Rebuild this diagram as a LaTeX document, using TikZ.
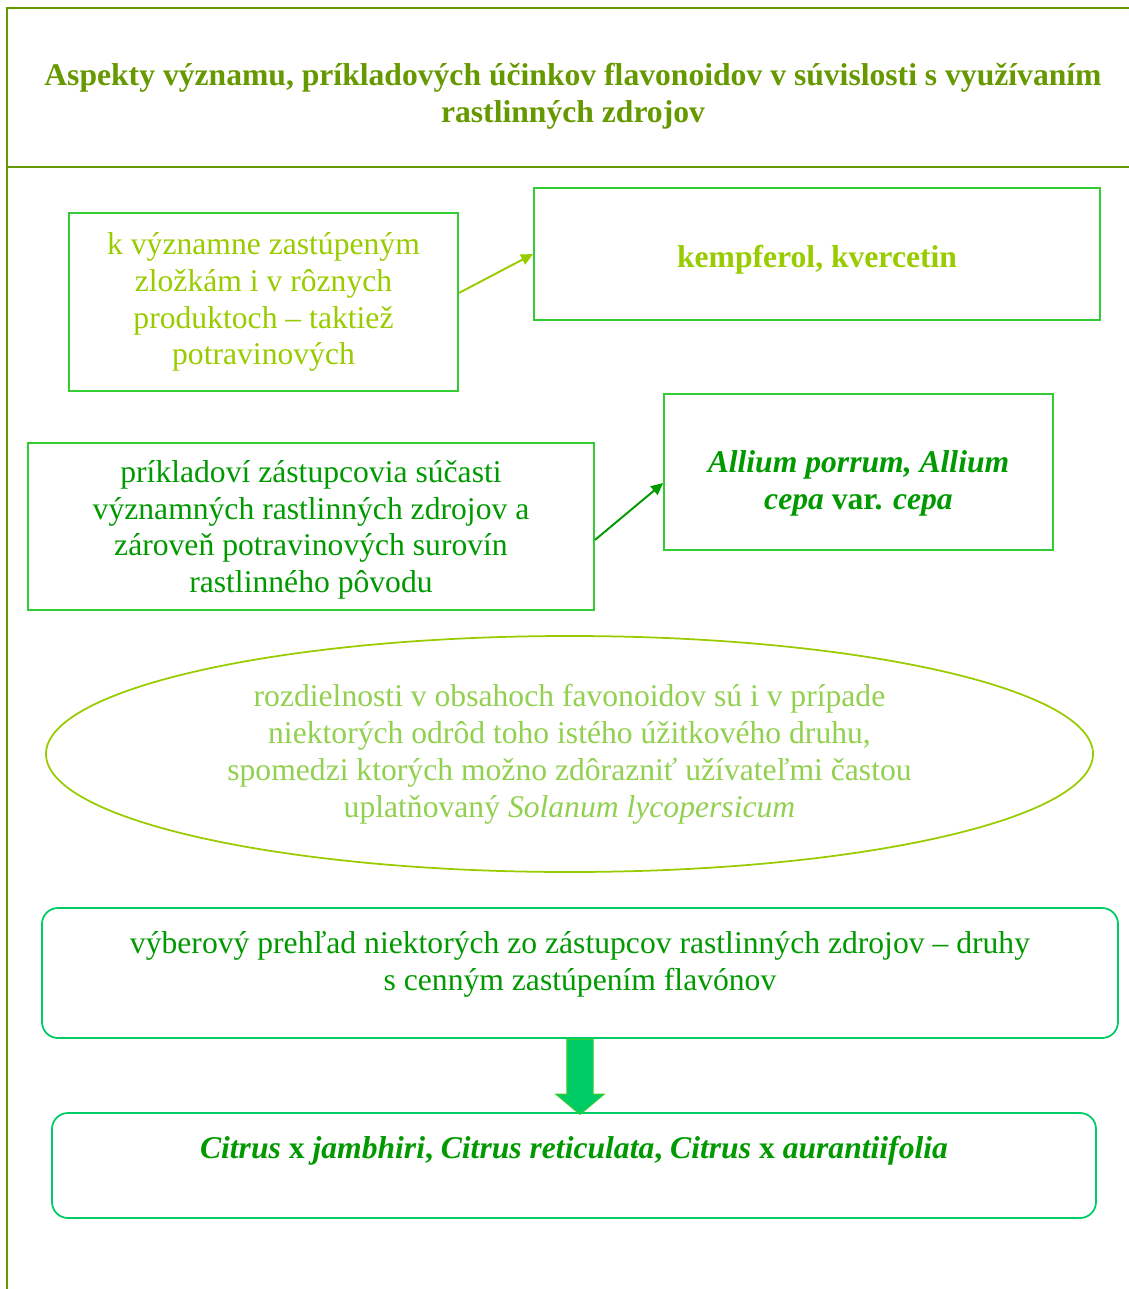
\documentclass[tikz,border=0pt]{standalone}
\usepackage{fontspec}
\setmainfont{Liberation Serif}
\usepackage{tikz}
\usetikzlibrary{shapes.geometric,shapes.arrows,arrows.meta}

\definecolor{olivegr}{HTML}{669900}
\definecolor{boxgr}{HTML}{33CC33}
\definecolor{limegr}{HTML}{99CC00}
\definecolor{darkgr}{HTML}{009900}
\definecolor{palegr}{HTML}{92D050}
\definecolor{emerald}{HTML}{00CC66}

\tikzset{
    txt/.style={font=\fontsize{18}{21}\selectfont,align=center,inner sep=0pt},
    sqbox/.style={txt,draw=boxgr,line width=1pt},
    rndbox/.style={draw=emerald,line width=1pt,rounded corners=3.2mm,inner sep=0pt},
    link/.style={line width=1.1pt,-{Triangle[length=2.4mm,width=2.2mm]}},
}

\begin{document}
\begin{tikzpicture}[x=0.2mm,y=-0.2mm]
        \useasboundingbox (0,0) rectangle (1129,1289);
        % frame and title
        \draw[olivegr,line width=1.2pt] (7,1289) -- (7,8) -- (1129,8);
        \draw[olivegr,line width=1.2pt] (7,167) -- (1129,167);
        \node[txt,text=olivegr,font=\fontsize{18}{21}\bfseries] (title) at (573,96)
            {Aspekty významu, príkladových účinkov flavonoidov v súvislosti s využívaním\\ rastlinných zdrojov};

        \node[sqbox,text=limegr,minimum width=77.8mm,minimum height=35.6mm] (share) at (263.5,302)
            {k významne zastúpeným\\ zložkám i v rôznych\\ produktoch – taktiež\\ potravinových};
        \node[sqbox,text=limegr,font=\fontsize{18}{21}\bfseries,text height=19pt,text depth=4pt,
              minimum width=113.2mm,minimum height=26.4mm] (kemp) at (817,254)
            {kempferol, kvercetin};
        \draw[link,limegr] ([yshift=1.8mm]share.east) -- (kemp.west);

        \node[sqbox,text=darkgr,text depth=0pt,minimum width=113.2mm,minimum height=33.4mm] (repr) at (311,526.5)
            {príkladoví zástupcovia súčasti\\ významných rastlinných zdrojov a\\ zároveň potravinových surovín\\ rastlinného pôvodu};
        \node[sqbox,text=darkgr,font=\fontsize{18}{21}\bfseries,text height=43pt,text depth=0pt,
              minimum width=77.8mm,minimum height=31.2mm] (allium) at (858.5,472)
            {\textit{Allium porrum, Allium}\\ \textit{cepa} var. \textit{cepa}};
        \draw[link,darkgr] ([yshift=-2.7mm]repr.east) -- ([yshift=-2.2mm]allium.west);

        \node[txt,ellipse,draw=limegr,line width=1pt,text=palegr,minimum width=209.4mm,minimum height=47.2mm] (diff) at (569.5,754)
            {rozdielnosti v obsahoch favonoidov sú i v prípade\\ niektorých odrôd toho istého úžitkového druhu,\\ spomedzi ktorých možno zdôrazniť užívateľmi častou\\ uplatňovaný \textit{Solanum lycopersicum}};

        % selection and citrus species
        \node[rndbox,minimum width=215.2mm,minimum height=26mm] (sel) at (580,973) {};
        \node[txt,text=darkgr] (seltxt) at (580,964)
            {výberový prehľad niektorých zo zástupcov rastlinných zdrojov – druhy\\ s cenným zastúpením flavónov};
        \node[rndbox,minimum width=208.8mm,minimum height=21mm] (cit) at (574,1165.5) {};
        \node[txt,text=darkgr,font=\fontsize{18}{21}\bfseries] (cittxt) at (574,1151)
            {\textit{Citrus} x \textit{jambhiri}, \textit{Citrus reticulata}, \textit{Citrus} x \textit{aurantiifolia}};

        \node[single arrow,rotate=-90,anchor=tail,fill=emerald,draw=boxgr,line width=0.6pt,inner xsep=0pt,inner ysep=2.5mm,
              minimum height=15mm,minimum width=9.4mm,single arrow head extend=2.2mm,
              single arrow tip angle=100] (down) at (sel.south) {};
\end{tikzpicture}
\end{document}
